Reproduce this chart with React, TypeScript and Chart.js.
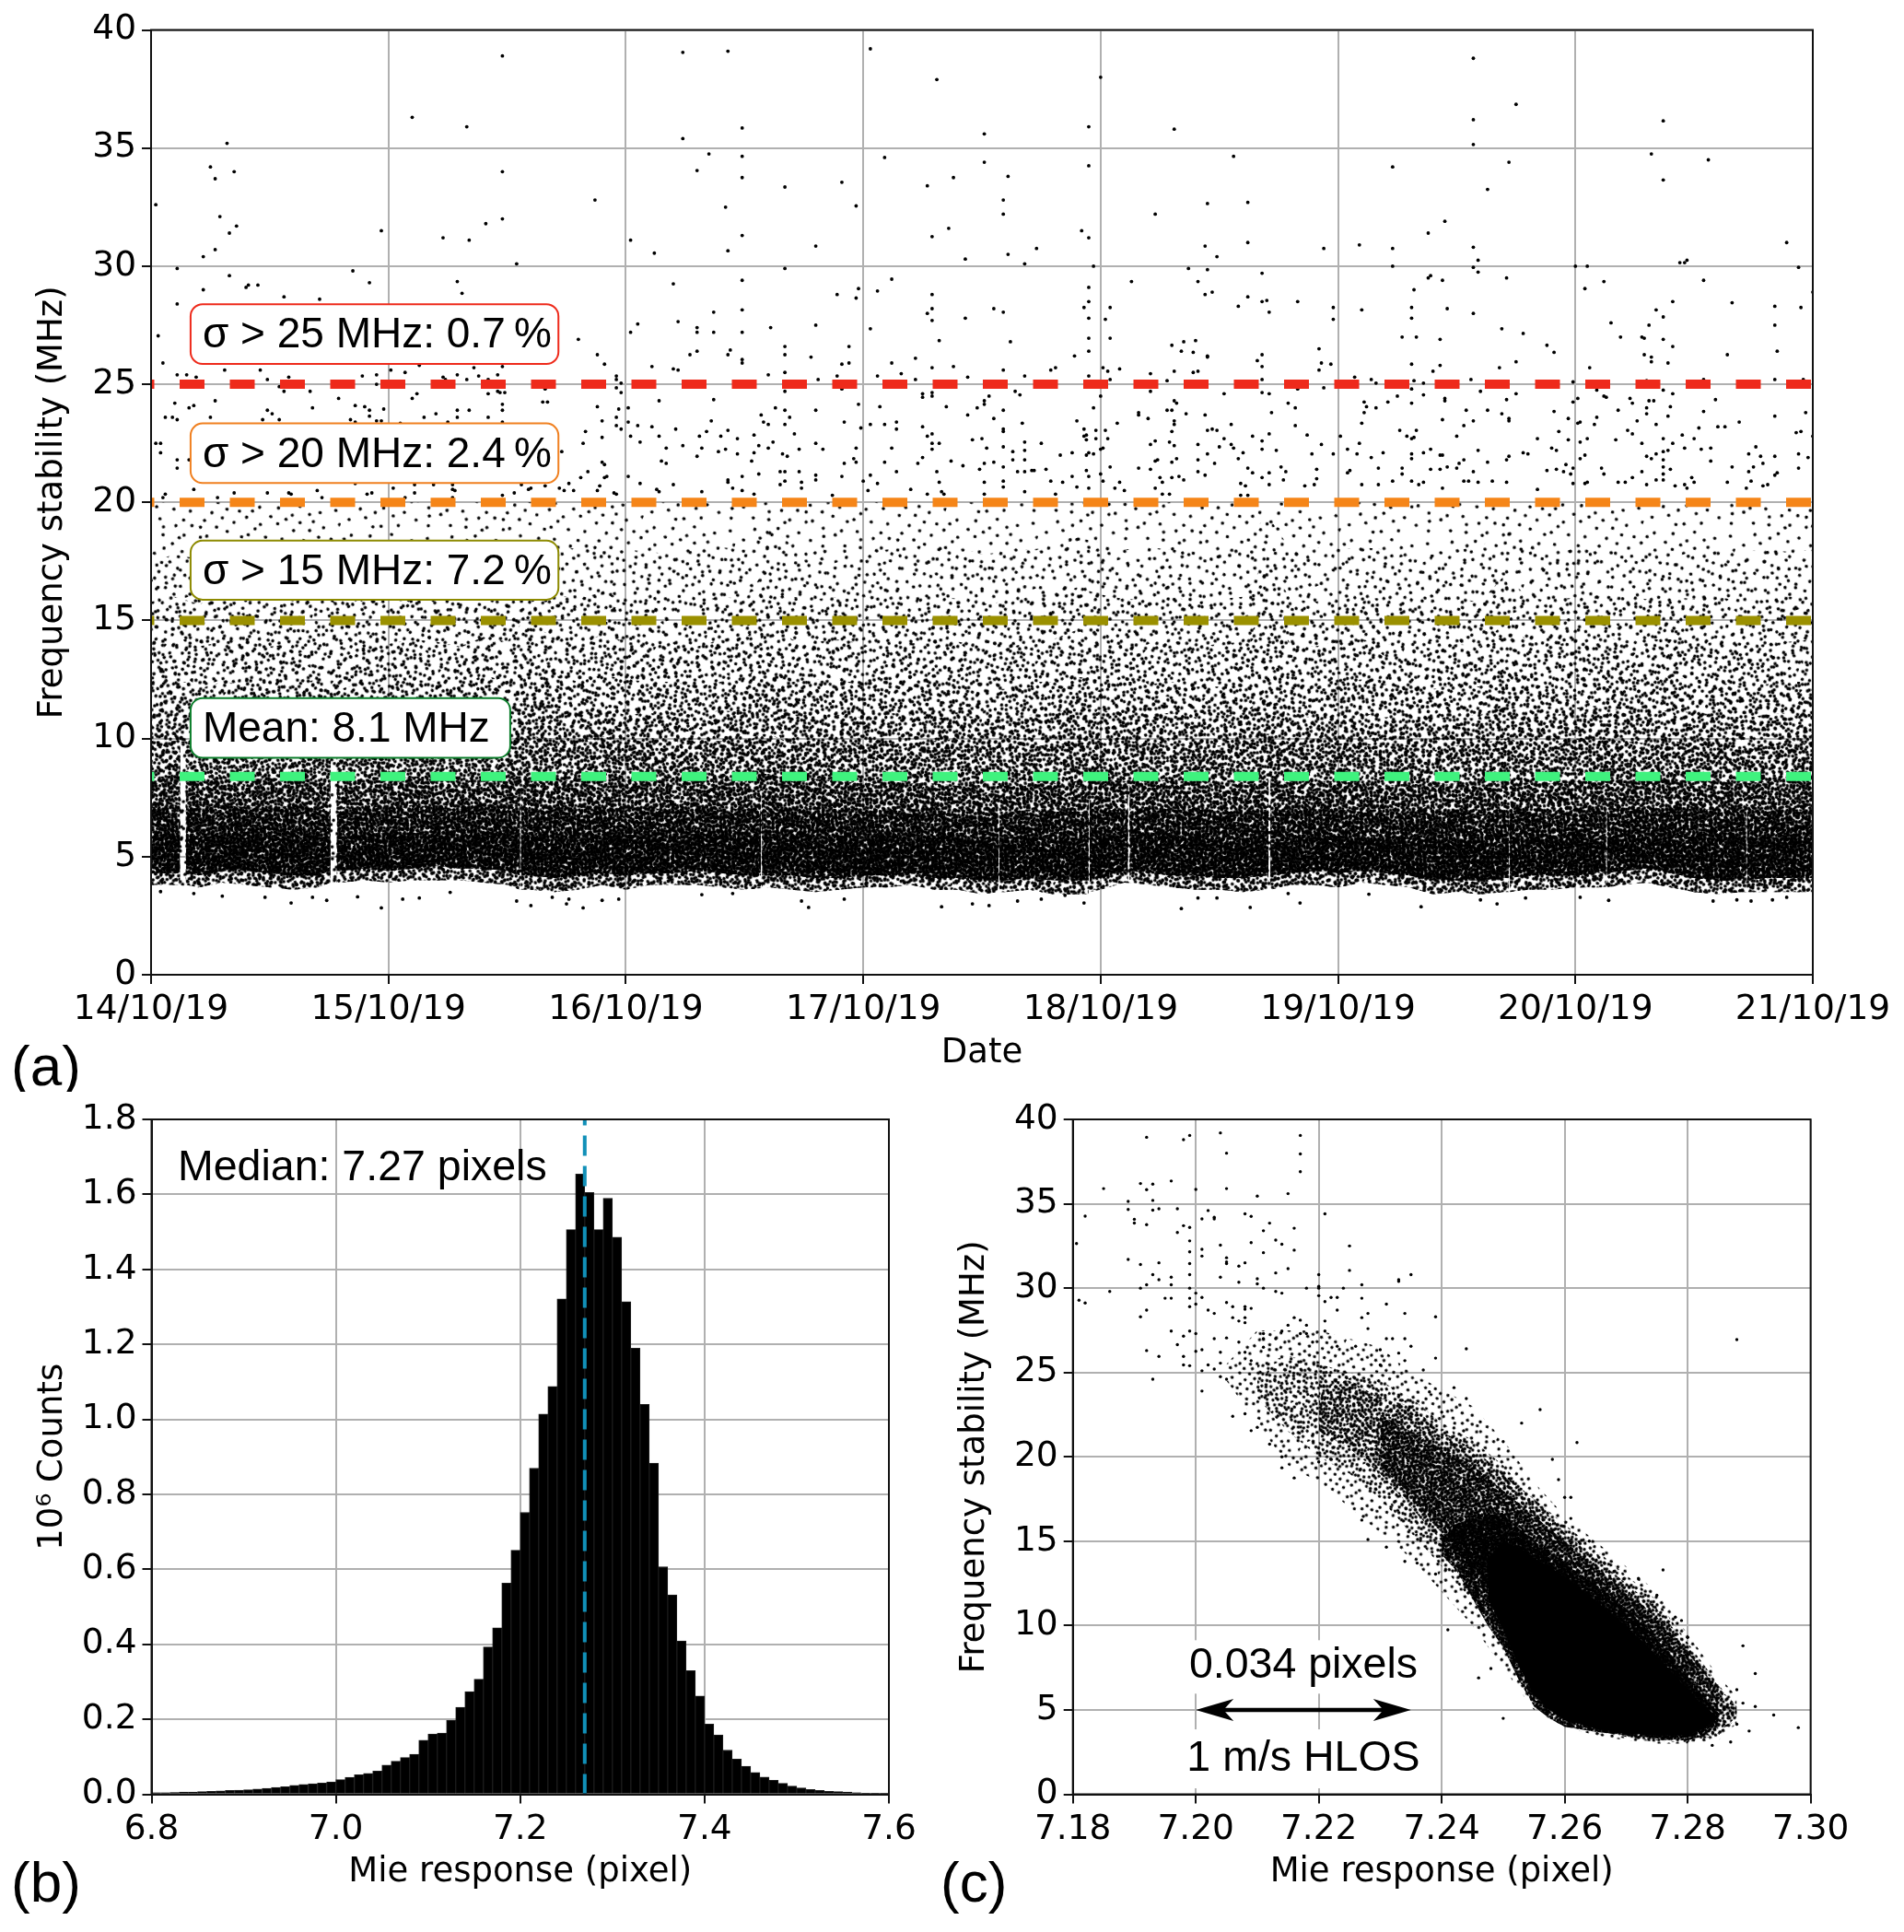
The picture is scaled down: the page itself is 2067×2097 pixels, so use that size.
import React, { useEffect, useRef } from "react";
import { Chart, registerables } from "chart.js";
Chart.register(...registerables);

// ---------- Panel (a): sparse points, flat [day, MHz, day, MHz, ...]
const day14Points = [14.02,32.6,14.32,35.2,14.25,34.2,14.35,34,14.27,33.7,14.29,32.1,14.36,31.7,14.33,31.4,14.27,30.7,14.22,30.4,14.11,29.9,14.33,29.6,14.41,29.2,14.4,29.1,14.45,29.2,14.22,29,14.11,28.4,14.56,28.7,14.71,28.6,14.03,27.05,14.05,25.9,14.11,25.4,14.15,25.4,14.19,25.3,14.31,25.6,14.46,25.6,14.49,25.2,14.58,25.3,14.54,24.9,14.56,24.7,14.67,24.7,14.79,24.4,14.27,24.3,14.1,24.2,14.18,24.1,14.16,24,14.06,23.6,14.09,23.6,14.11,23.5,14.25,23.6,14.49,23.9,14.51,23.75,14.47,23.5,14.54,23.5,14.68,24,14.86,24.1,14.9,24.05,14.92,23.9,14.92,23.65,14.84,23.5,14.86,23.4,14.95,23.45,14.97,23.45,14.98,23.95,14.89,25.35,14.95,25.4,14.95,25,14.97,31.5,14.85,29.8,14.92,29.3,14.02,22.5,14.04,22.5,14.04,22.1,14.11,21.8,14.11,21.45,14.16,21.8,14.86,20.8,14.93,20.4,14.91,20.35,14.7,20.5,14.72,20.2,14.58,20.4,14.59,20.35,14.49,20.4,14.35,20.4,14.18,20.55,14.06,20.35,14.05,20.2,14.28,20.2];
const day15Points = [15.1,36.3,15.33,35.9,15.48,38.9,15.48,34,15.48,32,15.41,31.8,15.23,31.2,15.34,31.1,15.54,30.1,15.29,29.35,15.31,28.85,15.87,32.8,15.8,26.9,15.88,26.25,15.91,25.85,15.96,25.35,15.96,25.2,15.96,24.85,15.98,25.05,15.98,24.65,15.66,24.8,15.65,24.25,15.67,24.25,15.88,24.05,15.9,23.45,15.97,23.95,15.96,23.6,15.96,23.25,15.98,23.1,15.83,23,15.82,22.5,15.9,22.75,15.73,22.15,15.84,21.3,15.81,21.05,15.92,21.1,15.91,21.05,15.9,21.7,15.91,21.6,15.76,20.8,15.72,20.6,15.74,20.5,15.78,20.5,15.56,20.75,15.59,20.55,15.6,20.6,15.66,20.7,15.53,20.4,15.89,20.7,15.88,20.5,15.95,20.4,15.96,20.35,15.27,20.55,15.28,20.5,15.27,20.75,15.19,20.75,15.11,20.75,15.02,20.6,15.11,20.4,15.07,20.2,15.27,20.2,15.48,20.3,15.1,24.4,15.12,24.6,15.01,25.6,15.07,25.5,15.13,25.8,15.23,25.3,15.24,25.2,15.29,25.4,15.33,25.2,15.36,25.7,15.38,25.35,15.42,25.2,15.46,25.4,15.48,25.75,15.42,24.6,15.46,24.7,15.47,24.65,15.49,24.65,15.48,24.15,15.48,23.9,15.42,23.6,15.29,23.9,15.29,23.6,15.34,23.9,15.2,23.75,15.15,23.6,15.25,23.4,15.05,23.35,15.48,23.4];
const day16Points = [16.02,31.1,16.02,27.2,16.05,27.55,16.01,24,16.01,23.4,16.02,22.8,16.05,23.25,16.06,22.55,16.01,21.1,16.06,20.8,16.24,39.05,16.43,39.1,16.24,35.4,16.49,35.85,16.35,34.75,16.49,34.65,16.3,34.05,16.49,33.75,16.67,33.35,16.91,33.55,16.42,32.5,16.97,32.55,16.49,31.3,16.43,30.65,16.8,30.85,16.12,30.55,16.67,29.9,16.49,29.4,16.2,29.25,16.89,28.8,16.98,29.05,16.97,28.65,16.49,28.15,16.37,28.05,16.22,27.65,16.3,27.4,16.3,27.2,16.37,27.2,16.49,27.2,16.61,27.4,16.8,27.5,16.94,26.6,16.67,26.6,16.67,26.25,16.44,26.45,16.43,26.25,16.3,26.4,16.27,26.25,16.78,26.15,16.49,26.05,16.49,25.9,16.91,25.85,16.94,25.9,16.11,25.75,16.2,25.65,16.22,25.6,16.6,25.4,16.67,25.5,16.89,25.35,16.81,25.2,16.67,24.7,16.91,24.8,16.14,24.3,16.37,24.35,16.98,24.15,16.8,23.9,16.67,23.9,16.69,23.6,16.63,24,16.57,23.7,16.58,23.4,16.6,23.3,16.67,23.3,16.36,23.45,16.92,23.4,16.99,23.15,16.11,23.2,16.21,23.1,16.43,23.05,16.34,23,16.71,22.9,16.14,22.8,16.31,22.8,16.4,22.8,16.47,22.7,16.54,22.85,16.62,22.55,16.56,22.4,16.6,22.3,16.8,22.5,16.83,22.25,16.97,22.3,16.17,22.3,16.24,22.4,16.32,22.3,16.42,22.25,16.39,22.15,16.3,21.95,16.47,22.05,16.54,22.1,16.73,22.25,16.66,22.05,16.68,21.95,16.15,21.75,16.17,21.65,16.53,21.75,16.96,21.85,16.97,21.7,16.92,21.65,16.56,21.2,16.49,21.1,16.43,20.95,16.43,20.85,16.65,21.3,16.67,21.3,16.73,21.3,16.8,21.15,16.8,20.95,16.91,21.1,16.67,20.9,16.65,20.75,16.74,20.85,16.74,20.6,16.45,20.6,16.49,20.5,16.13,20.55,16.14,20.45,16.2,20.75,16.32,20.45,16.54,20.35,16.87,20.3];
const day17Points = [17.03,39.2,17.31,37.9,17.51,35.6,17.95,35.9,17.12,29.45,17.06,28.95,17.29,28.8,17.29,28.2,17.27,28,17.29,27.7,17.03,27.35,17.32,26.85,17.22,26.1,17.43,30.3,17.29,31.25,17.36,31.6,17.09,34.6,17.27,33.4,17.38,33.75,17.51,34.4,17.61,33.8,17.59,32.8,17.59,32.2,17.61,30.5,17.73,30.75,17.68,30.1,17.95,34.25,17.92,31.5,17.95,31.2,17.97,30,17.95,29.1,17.95,28.5,17.93,28.25,17.95,27.8,17.95,26.95,17.95,26.4,17.89,26.2,17.43,27.8,17.55,28.2,17.59,28.05,17.62,26.8,17.12,25.9,17.38,25.75,17.29,25.7,17.59,25.6,17.06,25.35,17.16,25.45,17.22,25.2,17.44,25.3,17.68,25.35,17.79,25.6,17.81,25.7,17.95,25.35,17.25,24.6,17.25,24.45,17.29,24.65,17.29,24.5,17.35,24.05,17.07,24.05,17.64,24.7,17.66,24.55,17.53,24.5,17.51,24.3,17.51,24.15,17.48,24,17.44,23.7,17.59,23.9,17.55,23.55,17.67,23.35,17.97,24,17.9,23.45,17.03,23.3,17.09,23.3,17.14,23.4,17.14,23.1,17.25,23.2,17.29,22.9,17.27,22.8,17.59,23.1,17.59,23,17.93,23.1,17.98,23.05,17.94,22.85,17.93,22.8,17.98,22.7,17.94,22.65,17.46,22.65,17.5,22.7,17.68,22.55,17.75,22.5,17.29,22.5,17.32,22.5,17.12,22.3,17.29,22.25,17.52,22.3,17.59,22.35,17.63,22.15,17.68,22.2,17.95,22.1,17.97,22.05,17.94,22,17.88,22.1,17.83,22,17.25,21.9,17.23,21.65,17.09,21.7,17.37,21.75,17.51,21.65,17.55,21.7,17.63,21.8,17.68,21.8,17.42,21.55,17.49,21.4,17.59,21.5,17.65,21.3,17.68,21.3,17.71,21.35,17.72,21.35,17.77,21.4,17.14,21.3,17.31,21.3,17.94,21.35,17.95,21.1,17.03,21.15,17.06,20.8,17,20.9,17.59,20.9,17.59,20.65,17.51,20.85,17.79,20.9,17.84,20.85,17.88,21.1,17.9,20.65,17.32,20.85,17.2,20.55,17.02,20.5,17.27,20.35,17.33,20.45,17.34,20.35,17.68,20.45,17.51,20.35,17.81,20.35,17.95,20.6];
const day18Points = [18,38,18.31,35.8,18.02,27.75,18.04,28.25,18.04,26.95,18.13,29.35,18.37,29.9,18.41,29.35,18.45,29.85,18.44,28.8,18.47,28.9,18.58,28.3,18.62,28.7,18.23,32.2,18.45,32.65,18.62,32.7,18.44,30.85,18.62,31,18.49,30.4,18.56,34.65,18.3,26.65,18.35,26.8,18.4,26.85,18.34,26.4,18.39,26.35,18.45,26.2,18.45,26.15,18.66,26,18.21,25.45,18.31,25.55,18.39,25.5,18.41,25.55,18.28,25.15,18.01,25.7,18.03,25.55,18.08,25.65,18.04,25.2,18,24.5,18.02,23.05,18.03,22.7,18.01,22.3,18,22.25,18.04,21.5,18,21.2,18.01,20.9,18.08,20.85,18.06,20.6,18.1,20.5,18.21,24.7,18.52,24.6,18.31,24.3,18.32,24.2,18.28,23.9,18.3,23.9,18.36,23.75,18.44,23.7,18.16,23.8,18.16,23.7,18.2,23.55,18.07,23.35,18.31,23.45,18.31,23.3,18.3,23,18.55,23.3,18.45,23.05,18.47,23.1,18.49,23.05,18.52,22.7,18.64,22.8,18.23,22.6,18.21,22.45,18.29,22.55,18.31,22.4,18.41,22.45,18.5,22.35,18.55,22.45,18.56,22.3,18.6,22.1,18.45,22.05,18.58,21.85,18.48,21.65,18.41,21.8,18.24,21.8,18.23,21.75,18.32,21.85,18.3,21.7,18.16,21.45,18.21,21.4,18.41,21.3,18.44,21.15,18.62,21.45,18.64,21.25,18.25,21.05,18.26,20.85,18.3,21.05,18.33,21.1,18.35,20.95,18.23,20.6,18.26,20.35,18.29,20.35,18.59,20.8,18.61,20.7,18.59,20.3,18.62,20.3,18.94,30.75,18.68,29.7,18.68,28.5,18.7,28.55,18.83,28.5,18.71,28.05,18.98,28.25,18.98,27.75,18.92,26.5,18.68,26.25,18.68,25.75,18.93,25.9,18.97,25.85,18.92,25.6,18.68,25.2,18.68,24.65,18.71,24.6,18.83,24.8,18.94,24.85,18.79,24.2,18.82,24,18.72,23.8,18.82,23.25,18.71,22.9,18.87,22.85,18.68,22.6,18.93,22.45,18.68,22.25,18.74,22.2,18.89,22.05,18.98,22.05,18.76,21.5,18.78,21.3,18.91,21.4,18.68,21.05,18.71,21.25,18.71,20.75,18.77,20.95,18.86,20.7,18.9,20.75,18.91,21];
const day19Points = [19.57,38.8,19.75,36.85,19.57,36.2,19.57,35.15,19.72,34.4,19.23,34.2,19.63,33.25,19.45,31.9,19.38,31.4,19.09,30.9,19.23,30.75,19.57,30.8,19.59,30.25,19.57,29.95,19.23,30,19.59,29.75,19.39,29.6,19.38,29.5,19.44,29.4,19.71,29.5,19.32,29,19.1,28.15,19.31,28.25,19.46,28.2,19.57,28,19.31,27.8,19.69,27.35,19.78,27.15,19.27,27,19.33,27,19.43,26.9,19.88,26.65,19.91,26.35,19.75,25.95,19.31,25.85,19.43,25.8,19.68,25.7,19.4,25.55,19.07,25.3,19.14,25.2,19.16,25.05,19.32,25.15,19.36,25.05,19.56,25.2,19.99,25.1,19.31,24.8,19.25,24.5,19.36,24.55,19.6,24.7,19.75,24.6,19.71,24.35,19.45,24.4,19.45,24.3,19.11,24.25,19.12,24.05,19.21,24.25,19.16,24,19.31,24.2,19.99,24.25,19.11,23.8,19.54,23.9,19.63,23.9,19.69,23.75,19.91,23.85,19.72,23.55,19.72,23.45,19.44,23.5,19.57,23.45,19.97,23.55,19.1,23.35,19.53,23.25,19.26,23.05,19.33,23.05,19.93,23,19.01,22.8,19.29,22.8,19.31,22.7,19.32,22.75,19.5,22.8,19.84,22.7,19.97,22.65,19.09,22.5,19.04,22.25,19.39,22.25,19.9,22.3,19.92,22.2,19.59,22.2,19.19,22.1,19.08,22.05,19.14,21.9,19.31,22.05,19.31,21.85,19.36,22.1,19.43,22,19.44,22,19.53,21.8,19.51,21.65,19.63,21.7,19.72,21.95,19.71,21.8,19.78,22.1,19.8,22.05,19.04,21.25,19.05,21.35,19.17,21.45,19.27,21.45,19.27,21.2,19.39,21.4,19.43,21.4,19.46,21.5,19.5,21.45,19.57,21.3,19.88,21.35,19.92,21.4,19.96,21.6,19.95,21.3,19.98,21.2,19.99,21.45,19.1,20.75,19.17,20.75,19.23,20.9,19.31,20.9,19.34,20.75,19.36,20.85,19.44,20.6,19.53,20.9,19.55,20.9,19.59,20.85,19.65,20.9,19.71,20.85,19.84,20.55,19.99,20.8];
const day20Points = [20.37,36.15,20.32,34.75,20.56,34.5,20.37,33.65,20.89,31,20,30,20.05,30,20.44,30.15,20.46,30.15,20.47,30.25,20.94,29.95,20.12,29.35,20.54,29.4,20.04,29.05,21,28.9,20.34,28.15,20.41,28.5,20.66,28.45,20.84,28.3,20.95,28.25,20.37,27.85,20.31,27.5,20.15,27.6,20.84,27.5,20.19,27,20.28,27,20.29,26.95,20.37,26.9,20.41,26.6,20.85,26.4,20.29,26.25,20.32,26.15,20.32,25.95,20.39,25.9,20.64,26.25,20.06,25.7,20.3,25.15,20.54,25.2,20.84,25.2,20.96,25.2,20.09,24.75,20.37,24.75,20.41,24.6,20.12,24.5,20.13,24.45,20.01,24.4,20.23,24.4,20.24,24.2,20.31,24.3,20.33,24.3,20.4,24.05,20.59,24.35,20.18,23.9,20.3,24,20.3,23.75,20.54,23.85,20.97,23.8,20.84,23.65,20.39,23.65,20.09,23.6,20.26,23.45,20.69,23.4,20.01,23.35,20.02,23.4,20.08,23.3,20.34,23.3,20.6,23.2,20.63,23.2,20.22,23.05,20.52,23.15,20.93,22.95,20.95,23,20.24,22.9,20.45,22.85,21,22.8,20.05,22.7,20.17,22.65,20.37,22.7,20.02,22.55,20.28,22.5,20.41,22.5,20.5,22.7,20.46,22.3,20.53,22.25,20.57,22.3,20.37,22.15,20.39,22.2,20.76,22.35,20.04,22,20.02,21.85,20.3,21.95,20.32,21.85,20.34,22.05,20.37,21.8,20.73,22.05,20.78,21.95,20.79,21.65,20.94,22.05,20.98,21.9,20.84,21.95,20.57,21.75,20.11,21.45,20.12,21.2,20.28,21.3,20.37,21.5,20.37,21.2,20.4,21.4,20.66,21.5,20.73,21.3,20.75,21.5,20.85,21.25,20.84,21.15,20.94,21.45,20.04,20.8,20.05,20.85,20.18,20.85,20.21,20.85,20.24,21.05,20.34,20.95,20.37,20.95,20.3,20.75,20.42,20.7,20.46,20.75,20.47,20.6,20.49,21.05,20.5,20.85,20.64,20.85,20.72,20.6,20.74,20.9,20.79,20.7,20.81,20.75];
const lowOutliers = [14.59,3.04,14.97,2.83,14.48,3.28,14.74,3.15,14.3,3.33,15.06,3.2,15.13,3.25,15.26,3.49,15.54,3.12,15.6,2.93,15.69,3.28,15.75,3,15.82,2.83,15.76,3.2,15.9,3.15,15.97,3.2,14.87,3.3,14.68,3.28,14.18,3.44,14.04,3.52,16.77,2.85,17.33,2.88,17.46,3,17.53,2.93,17.65,3.12,17.93,3.04,18.34,2.8,18.63,2.85,16.32,3.39,16.45,3.44,16.74,3.12,16.92,3.2,18.41,3.25,18.49,3.25,17.85,3.36,17.75,3.2,18.84,3.04,19.35,2.88,19.6,3.17,19.67,3,20.14,3.15,20.58,3.12,20.68,3.17,20.74,3.12,20.83,3.17,20.89,3.28,19.79,3.25,20.02,3.28,18.79,3.44,19.13,3.41];

// Density envelopes of the part of panel (a) too dense to list point by point (every 0.1 day)
const edgeDays = [14,14.1,14.2,14.3,14.4,14.5,14.6,14.7,14.8,14.9,15,15.1,15.2,15.3,15.4,15.5,15.6,15.7,15.8,15.9,16,16.1,16.2,16.3,16.4,16.5,16.6,16.7,16.8,16.9,17,17.1,17.2,17.3,17.4,17.5,17.6,17.7,17.8,17.9,18,18.1,18.2,18.3,18.4,18.5,18.6,18.7,18.8,18.9,19,19.1,19.2,19.3,19.4,19.5,19.6,19.7,19.8,19.9,20,20.1,20.2,20.3,20.4,20.5,20.6,20.7,20.8,20.9,21];
const lowEdge = [3.8,3.8,3.7,3.9,3.8,3.7,3.6,3.7,3.9,4,3.9,4,4,4,3.9,3.8,3.6,3.5,3.6,3.8,3.6,3.8,3.8,3.8,3.7,3.6,3.7,3.6,3.5,3.6,3.7,3.7,3.8,3.6,3.6,3.4,3.5,3.6,3.4,3.4,3.6,3.9,3.8,3.7,3.6,3.6,3.5,3.6,3.8,3.8,3.7,3.9,3.8,3.7,3.4,3.5,3.4,3.5,3.6,3.6,3.7,3.7,3.8,3.9,3.7,3.5,3.4,3.5,3.5,3.5,3.5];
const coreLow = [4.3,4.3,4.2,4.4,4.4,4.3,4.2,4.2,4.4,4.5,4.4,4.5,4.6,4.5,4.5,4.4,4.2,4.1,4.2,4.3,4.2,4.3,4.3,4.4,4.3,4.2,4.2,4.2,4.1,4.1,4.2,4.2,4.3,4.1,4.1,4,4,4.1,4,4,4.1,4.4,4.3,4.2,4.2,4.1,4.1,4.2,4.3,4.4,4.3,4.4,4.3,4.2,4,4,4,4.1,4.2,4.2,4.2,4.3,4.4,4.5,4.3,4.1,4,4,4.1,4.1,4.1];
const deepTop = [5.9,6,5.8,6,6.1,5.9,6,5.8,5.8,6,6,6,6.1,5.9,6,6,5.9,6,5.8,5.9,5.9,6,5.8,5.9,6,5.9,6,5.9,5.9,5.8,5.8,5.9,5.7,5.9,5.8,5.7,5.8,5.9,5.8,5.8,5.9,5.9,6,5.9,5.9,5.8,5.8,5.9,5.8,5.9,5.9,5.8,5.7,5.8,5.7,5.8,5.7,5.8,5.8,5.7,5.9,5.8,5.9,5.9,6,5.9,5.9,5.8,5.8,5.9,5.9];
const coreTop = [7.1,7.2,7,7.2,7.1,7,7.2,7,6.9,7.1,7,7.2,7.1,7,7.2,7.2,7,7.1,7,7.1,7,7.1,6.9,7,7.1,7,7.2,7,7.1,7,6.9,7,6.9,7,6.8,6.7,6.8,7,6.9,6.9,7,7,7.1,7,7,6.9,6.9,7,6.9,7,7,6.9,6.8,6.9,6.8,6.9,6.8,6.9,6.9,6.8,7,6.9,7,7,7.1,7,7,6.9,6.9,7,7];
const top8 = [8.4,8.4,8.2,8.4,8.3,8.3,8.4,8.2,8.2,8.3,8.2,8.4,8.4,8.2,8.3,8.4,8.3,8.3,8.2,8.4,8.2,8.3,8.1,8.3,8.3,8.2,8.5,8.2,8.3,8.2,8.1,8.2,8.1,8.1,8,7.9,8,8.1,8.1,8.2,8.3,8.2,8.3,8.2,8.2,8.1,8.1,8.3,8.1,8.2,8.2,8.1,8,8.1,8,8.1,8,8.2,8.1,8.1,8.2,8.2,8.3,8.2,8.3,8.2,8.2,8.1,8.2,8.3,8.3];
const top10 = [9.9,9.9,9.6,9.8,9.7,9.7,9.8,9.6,9.7,9.8,9.6,9.8,9.8,9.7,9.8,9.9,10.1,10,9.9,10.1,9.9,9.9,9.7,9.9,9.9,9.8,10.2,9.8,9.9,9.7,9.7,9.8,9.8,9.9,10,9.6,9.7,9.7,9.7,9.9,10,9.9,9.8,9.8,9.7,9.7,9.8,10.2,9.7,9.7,9.8,9.8,9.7,9.7,9.5,9.7,9.8,10,9.7,9.7,10,10,9.9,9.8,9.9,9.8,9.8,9.7,9.8,9.8,9.8];
const top11 = [11,11.1,10.8,11,11.1,11,10.9,11.1,10.8,11,10.9,11.1,11.2,10.9,11.1,11.2,11.6,11.3,11,11.3,11,11.1,10.9,11,11.2,11.1,11.9,11,11.1,11,10.9,11.1,11,11.2,11.1,10.8,10.9,11,11.1,11.3,11.2,11,11,11.1,10.9,10.9,11.1,11.8,11,10.9,11.1,11.1,10.9,11,10.8,11,11,11.5,11,10.9,11.3,11.4,11.1,11.1,11.2,11.1,11,10.9,11,11.1,11.1];
const top13 = [12.6,12.4,12.1,12.4,12.3,12.4,12.3,12.5,12.1,12.4,12.2,12.5,12.4,12.2,12.7,12.4,13,12.7,12.4,12.7,12.5,12.4,12.4,12.2,12.4,12.5,13.2,12.4,12.5,12.4,12.4,12.6,12.4,12.5,12.4,12.2,12.1,12.4,12.4,12.6,12.5,12.4,12.3,12.4,12.2,12.2,12.4,13.1,12.3,12.2,12.4,12.5,12.3,12.3,12.1,12.3,12.2,13,12.3,12.2,12.7,12.8,12.5,12.5,12.6,12.5,12.4,12.2,12.3,12.4,12.4];
const top14 = [14,14.2,13.9,14.1,14.2,13.9,14,14.2,13.8,14.1,14,14.2,14.1,13.9,14.3,14.1,14.8,14.3,14,14.4,14.1,14,14.1,13.9,14.2,14.1,15.3,14.2,14.1,14.2,14,14.2,14,14.3,14.1,13.9,13.8,14.1,14.2,14.6,14.3,14,14,14.2,13.9,14,14.1,15.4,14,13.9,14.1,14.2,14,14,13.8,14,13.9,14.9,14.1,13.9,14.2,14.3,14.1,14.2,14.2,14,14.1,13.9,14,14.1,14.2];
const top16 = [15.8,16,15.7,15.9,16.1,15.8,15.9,16,15.7,15.9,15.8,16,15.9,15.8,16.1,16.2,16.6,16.1,15.9,16.2,15.9,15.8,15.9,15.8,16,15.9,17.3,16,15.9,16,15.8,16,15.9,16.1,15.9,15.7,15.8,16,16,16.4,16.1,15.9,15.9,16,15.8,15.9,16,17.6,15.9,15.8,15.9,16,15.9,15.8,15.7,15.9,15.8,16.9,16,15.8,16,16.1,16,15.9,16,15.9,16,15.8,15.9,16,16];
const top18 = [17.5,17.8,17.6,17.9,18,17.7,18,17.8,17.6,17.9,17.8,18,18.1,17.9,18.2,18.3,18.6,18.2,18,18.2,18,17.9,17.8,18,18.1,18,19,18.2,18,18.1,17.9,18,18.1,18.3,18.1,17.8,17.9,18,18.1,18.5,18.3,18,18.1,18,17.9,18,18.1,19.5,18,18.1,18,18.1,18,17.9,17.8,18,18.1,18.9,18.1,17.9,18,18.2,18.1,18,18,18.1,18,17.9,18,17.9,18];
const top20 = [20,20,20,20,20,20,20,20,20,20,20,20,20,20,20,20,20,20,20,20,20,20,20,20,20,20,20,20,20,20,20,20,20,20,20,20,20,20,20,20,20,20,20,20,20,20,20,20,20,20,20,20,20,20,20,20,20,20,20,20,20,20,20,20,20,20,20,20,20,20,20];
// White data gaps: first day, last day, height up to which they stay empty
const gapStarts = [14.123,14.757,15.555,16.57,17.57,17.95,18.116,18.708,19.72,20.13,20.72];
const gapEnds = [14.146,14.782,15.558,16.573,17.573,17.953,18.122,18.714,19.723,20.133,20.723];
const gapTops = [9.8,9.2,7.6,7.8,7.6,7.4,8,8.4,7,7,7];

const thresholds = [25, 20, 15, 8.4];
const thresholdColors = ["#ee2a1b", "#f58518", "#9a9000", "#3ff27e"];
const boxLabels = ["σ > 25 MHz: 0.7\u2009%", "σ > 20 MHz: 2.4\u2009%", "σ > 15 MHz: 7.2\u2009%", "Mean: 8.1 MHz"];
const boxBorders = ["#ee2a1b", "#f08020", "#8d8a00", "#0a7d2a"];
const boxLeft = [14.1665, 14.1665, 14.1665, 14.1665];
const boxRight = [15.716, 15.716, 15.716, 15.513];
const boxTop = [28.39, 23.34, 18.38, 11.71];
const boxBottom = [25.86, 20.82, 15.88, 9.19];

// ---------- Panel (b)
const histLeftEdges = [6.8,6.81,6.82,6.83,6.84,6.85,6.86,6.87,6.88,6.89,6.9,6.91,6.92,6.93,6.94,6.95,6.96,6.97,6.98,6.99,7,7.01,7.02,7.03,7.04,7.05,7.06,7.07,7.08,7.09,7.1,7.11,7.12,7.13,7.14,7.15,7.16,7.17,7.18,7.19,7.2,7.21,7.22,7.23,7.24,7.25,7.26,7.27,7.28,7.29,7.3,7.31,7.32,7.33,7.34,7.35,7.36,7.37,7.38,7.39,7.4,7.41,7.42,7.43,7.44,7.45,7.46,7.47,7.48,7.49,7.5,7.51,7.52,7.53,7.54,7.55,7.56,7.57,7.58,7.59];
const histCounts = [0.004,0.004,0.005,0.006,0.006,0.007,0.008,0.009,0.01,0.011,0.012,0.014,0.016,0.018,0.02,0.024,0.026,0.028,0.03,0.033,0.039,0.045,0.052,0.056,0.062,0.078,0.088,0.098,0.107,0.144,0.161,0.163,0.197,0.232,0.274,0.307,0.393,0.444,0.563,0.651,0.752,0.87,1.014,1.088,1.321,1.506,1.654,1.605,1.506,1.59,1.486,1.314,1.19,1.04,0.883,0.607,0.532,0.409,0.33,0.262,0.187,0.158,0.118,0.094,0.075,0.058,0.046,0.037,0.029,0.022,0.017,0.013,0.01,0.008,0.007,0.006,0.004,0.003,0.002,0.001];
const medianValue = 7.27;

// ---------- Panel (c): sparse points, flat [pixel, MHz, ...]
const mieUpperLeft = [7.1806,32.64,7.182,34.27,7.181,29.28,7.182,29.12,7.185,35.9,7.186,29.8,7.189,35.14,7.189,34.66,7.19,33.86,7.19,34.08,7.192,33.76,7.189,31.7,7.191,36.2,7.192,35.84,7.193,36.16,7.192,38.94,7.193,35.2,7.193,34.62,7.194,34.7,7.191,31.4,7.194,31.5,7.193,30.8,7.191,30,7.192,30.2,7.191,28.3,7.192,28.7,7.192,26.3,7.193,24.6,7.194,25.95,7.196,36.35,7.197,34.7,7.197,33.3,7.198,33.7,7.199,33.6,7.199,32.8,7.198,38.8,7.199,39.05,7.2,35.85,7.204,39.2,7.205,38,7.205,35.9,7.21,35.45,7.217,39.05,7.217,37.95,7.217,36.9,7.215,35.6,7.202,34.6,7.201,34.1,7.203,34.1,7.203,34.2,7.199,32.15,7.201,32.3,7.201,31.9,7.199,31.45,7.199,30.8,7.204,32.55,7.208,34.4,7.209,34.25,7.211,33.4,7.212,33.85,7.216,33.55,7.213,32.85,7.214,32.6,7.216,32.25,7.209,32.7,7.211,32.1,7.221,34.4,7.225,32.5,7.225,31.05,7.205,31.8,7.205,31.55,7.205,31.45,7.208,31.5,7.207,31.3,7.204,30.65,7.207,30.35];
const mieMiddle = [7.213,30.9,7.215,31.15,7.22,30.8,7.21,30.55,7.21,30.25,7.211,30,7.213,29.8,7.214,29.7,7.218,30,7.22,30.1,7.22,30,7.224,30,7.227,30.2,7.233,30.4,7.233,30.5,7.235,30.8,7.231,29.05,7.227,29.4,7.222,29.45,7.223,29.45,7.22,29.55,7.221,29.2,7.223,28.7,7.228,28.5,7.234,28.5,7.239,28.3,7.244,26.4,7.239,25.85,7.288,26.95,7.194,30.5,7.196,30.65,7.196,30.2,7.195,29.4,7.196,29.4,7.199,30,7.2,29.7,7.201,29.45,7.199,29.4,7.199,28.9,7.2,29.05,7.202,28.7,7.203,28.5,7.196,27.45,7.197,26.65,7.198,25.95,7.198,25.45,7.199,25.4,7.198,27.15,7.199,27.45,7.2,27.3,7.2,26.25,7.201,26.35,7.201,25.1,7.201,23.9,7.202,25.45,7.203,25.2,7.203,27,7.204,26.2,7.204,25.55,7.204,24.75,7.205,24.6,7.206,22.4,7.208,22.55,7.205,27.05,7.206,28.25,7.207,28.05,7.205,29.15,7.206,28.9,7.208,28.9,7.208,28.75,7.208,28.25,7.208,27.95,7.209,28.8,7.207,26.8,7.208,26.2,7.209,25.7,7.211,27.3,7.211,27,7.211,26.5,7.213,27,7.214,27.45,7.215,27.8,7.216,28.25,7.217,28.1,7.218,27.8,7.217,27.3,7.218,27.3,7.219,26.8,7.221,28.05,7.221,27.45,7.223,26.55,7.226,26.55,7.227,28.25,7.228,27.6,7.231,27,7.232,27,7.234,27,7.235,26.55,7.23,26.35,7.23,25.45,7.233,26.15,7.234,25.7,7.237,25.15];
const mieEdgePoints = [7.262,20.85,7.253,22,7.256,22.8,7.242,24.1,7.244,23.45,7.238,23.85,7.24,22.65,7.258,19.85,7.25,20.9,7.259,18.65,7.26,17.6,7.261,17.6,7.261,16.35,7.264,15,7.276,13.3,7.268,13.2,7.272,12.8,7.275,11.8,7.278,10.5,7.279,10.3,7.28,9.3,7.289,8.8,7.291,7.15,7.291,5.2,7.289,5.4,7.288,6.2,7.294,4.7,7.298,3.95,7.29,3.75,7.287,3.1,7.284,2.9,7.288,4.15,7.286,5.05,7.285,5.7,7.284,6.65,7.25,4.5,7.246,6.9,7.248,7.45,7.241,9.75,7.246,11.8,7.244,12.9,7.239,13.05,7.236,13.7,7.234,13.8,7.231,14.65,7.228,15.1,7.227,16.25,7.22,19.7,7.216,18.75,7.214,19.35,7.214,20,7.212,20.75,7.209,21.55,7.21,21.75];
const cDays = [7.205,7.21,7.215,7.22,7.225,7.23,7.235,7.24,7.245,7.25,7.255,7.26,7.265,7.27,7.275,7.28,7.285,7.288];
const cOuterLow = [24.5,22,19.5,18.5,17,15.5,14,12,10,7.5,5,4,3.5,3.2,3,3,3.2,4.2];
const cOuterHigh = [25.5,27.5,27.5,27.5,27,26.5,25,24,23,21,18.5,16.5,15,13.5,12,9.5,7,5.8];
const cMidLow = [23.5,21.5,20,19,17.5,15.5,13.5,11.5,9,5.5,4.3,3.6,3.3,3.1,3.1,3.5,4.5];
const cMidHigh = [25.5,26,25.5,25,24.5,23.5,22,21,19.5,17.5,16,14.5,13,11.5,9,6.5,5.2];
const cInnerLow = [21.5,20.5,19,17,15,13,10.5,7,4.6,3.8,3.4,3.2,3.2,3.6,4.6];
const cInnerHigh = [24.5,24.5,23.5,23,21.5,20.5,19,17.5,15.5,14,12.5,11,8.8,6.4,5.1];
const cDenseLow = [19.5,17.5,15.5,13.5,11,7.5,5,4,3.5,3.3,3.2,3.7];
const cDenseHigh = [22.5,21.5,20.5,19.5,18,16.5,15,13.5,12,10.5,8.5,6.2];
const cFringeDays = [7.24,7.2425,7.245,7.2475,7.25,7.2525,7.255,7.2575,7.26,7.265,7.27,7.275,7.28,7.283,7.285];
const cFringeLow = [14.2,13.2,11.6,10,8.7,6.8,5.2,4.5,4,3.7,3.5,3.35,3.35,3.8,4.3];
const cFringeHigh = [15.2,16,16.4,16.6,16.6,15.8,15,14.4,13.7,12.4,11,9.2,7,5.6,4.8];
const cSolidDays = [7.2475,7.25,7.2525,7.255,7.2575,7.26,7.265,7.27,7.275,7.28,7.283,7.285];
const cSolidLow = [11.6,9.8,7.6,5.9,5,4.4,3.9,3.6,3.5,3.5,4,4.5];
const cSolidHigh = [14,15,14.6,14,13.5,12.9,11.5,10,8.2,6.2,5.1,4.6];
const arrowFrom = 7.2;
const arrowTo = 7.235;
const arrowLevel = 5;

// Hand-placed texture of one stipple tile (percent of tile side); a fill style only.
const stippleDots = [[7,12],[23,5],[41,9],[58,3],[76,14],[91,7],[14,27],[33,22],[49,25],[66,19],[84,28],[4,41],[20,44],[37,38],[55,40],[71,35],[95,37],[11,58],[29,55],[46,52],[63,57],[80,49],[89,61],[2,73],[18,69],[36,71],[52,66],[70,72],[83,76],[97,79],[10,87],[26,84],[43,82],[60,88],[74,92],[88,94],[31,97],[50,95],[15,98],[64,75],[28,33],[42,63],[77,60],[93,50],[8,33],[59,30],[68,47],[24,76],[38,90],[82,39],[54,14],[16,50],[47,78],[72,25],[99,20],[33,12],[86,84],[5,62],[61,65],[44,31]];

const LABEL = "'Liberation Sans'";
const pairs = (flat: number[]) => {
  const out: { x: number; y: number }[] = [];
  for (let i = 0; i < flat.length; i += 2) out.push({ x: flat[i], y: flat[i + 1] });
  return out;
};

function stipple(size: number, angle: number, radius = 1.8) {
  const tile = document.createElement("canvas");
  tile.width = size;
  tile.height = size;
  const c = tile.getContext("2d")!;
  c.fillStyle = "#000";
  for (const [u, v] of stippleDots) {
    c.beginPath();
    c.arc((u / 100) * size, (v / 100) * size, radius, 0, Math.PI * 2);
    c.fill();
  }
  const p = c.createPattern(tile, "repeat")!;
  p.setTransform(new DOMMatrix().rotate(angle));
  return p;
}

function band(days: number[], low: number[], high: number[], fill: any, useGaps = true) {
  const xs = [...days];
  if (useGaps) gapStarts.forEach((s, i) => xs.push(s - 0.001, s, gapEnds[i], gapEnds[i] + 0.001));
  xs.sort((a, b) => a - b);
  const near = (x: number) => {
    let best = 0;
    days.forEach((d, i) => {
      if (Math.abs(d - x) < Math.abs(days[best] - x)) best = i;
    });
    return best;
  };
  const upper: any[] = [];
  const lower: any[] = [];
  xs.forEach((x) => {
    const i = near(x);
    const g = useGaps ? gapStarts.findIndex((s, k) => x >= s && x <= gapEnds[k]) : -1;
    let lo: number | null = low[i];
    let hi: number | null = high[i];
    if (g >= 0) {
      if (hi <= gapTops[g]) {
        lo = null;
        hi = null;
      } else {
        lo = Math.max(lo, gapTops[g]);
      }
    }
    upper.push({ x, y: hi });
    lower.push({ x, y: lo });
  });
  const common = { type: "line", pointRadius: 0, borderWidth: 0, tension: 0, order: 5, spanGaps: false };
  return [
    { ...common, data: upper, fill: "+1", backgroundColor: fill },
    { ...common, data: lower, fill: false },
  ];
}

function frame(chart: any) {
  const { ctx, chartArea: a } = chart;
  ctx.save();
  ctx.strokeStyle = "#111";
  ctx.lineWidth = 2;
  ctx.strokeRect(a.left, a.top, a.right - a.left, a.bottom - a.top);
  ctx.restore();
}

function axis(title: string, extra: any, size: number, horizontal: boolean) {
  return {
    type: "linear",
    ...extra,
    title: {
      display: true,
      text: title,
      color: "#000",
      font: { family: "'DejaVu Sans'", size: 37 },
      padding: horizontal ? { top: 0, bottom: 0 } : { top: 11, bottom: 0 },
    },
    grid: { color: "#b0b0b0", lineWidth: 2, tickColor: "#111", tickLength: 10, tickWidth: 2, drawOnChartArea: true, offset: false },
    border: { color: "#111", width: 2 },
    afterFit: (s: any) => {
      if (horizontal) s.height = size;
      else s.width = size;
    },
  };
}
const tickStyle = (cb: (v: number) => string, step: number) => ({
  stepSize: step,
  autoSkip: false,
  maxRotation: 0,
  color: "#000",
  padding: 6,
  font: { family: "'DejaVu Sans'", size: 37.5 },
  callback: cb,
});

const baseOptions = {
  responsive: false,
  animation: false,
  devicePixelRatio: 1,
  plugins: { legend: { display: false }, tooltip: { enabled: false } },
};

const letter = (chart: any, text: string, x: number, y: number) => {
  const c = chart.ctx;
  c.save();
  c.font = `62px ${LABEL}`;
  c.fillStyle = "#000";
  c.textBaseline = "middle";
  c.fillText(text, x, y);
  c.restore();
};

export default function App() {
  const aRef = useRef<HTMLCanvasElement>(null);
  const bRef = useRef<HTMLCanvasElement>(null);
  const cRef = useRef<HTMLCanvasElement>(null);

  useEffect(() => {
    const sparse = [...day14Points, ...day15Points, ...day16Points, ...day17Points, ...day18Points, ...day19Points, ...day20Points, ...lowOutliers];
    const chartA = new Chart(aRef.current!, {
      type: "scatter",
      data: {
        datasets: [
          ...thresholds.map((v, i) => ({
            type: "line",
            data: [{ x: 14, y: v }, { x: 21, y: v }],
            borderColor: thresholdColors[i],
            borderWidth: 10,
            borderDash: [27, 27.5],
            borderDashOffset: 23.5,
            pointRadius: 0,
            order: 0,
            fill: false,
          })),
          { data: pairs(sparse), pointRadius: 1.9, pointBorderWidth: 0, pointBackgroundColor: "#000", order: 1 },
          ...band(edgeDays, lowEdge, top20, stipple(104, 17), false),
          ...band(edgeDays, lowEdge, top18, stipple(97, 71), false),
          ...band(edgeDays, lowEdge, top16, stipple(91, 128), false),
          ...band(edgeDays, lowEdge, top14, stipple(83, 39)),
          ...band(edgeDays, lowEdge, top13, stipple(74, 94)),
          ...band(edgeDays, lowEdge, top11, stipple(62, 152)),
          ...band(edgeDays, lowEdge, top10, stipple(50, 26)),
          ...band(edgeDays, coreLow, top8, stipple(38, 63)),
          ...band(edgeDays, coreLow, coreTop, stipple(31, 141)),
          ...band(edgeDays, coreLow, deepTop, stipple(34, 8)),
        ] as any,
      },
      options: {
        ...baseOptions,
        layout: { padding: { left: 24, right: 99, top: 32.5, bottom: 19 } },
        scales: {
          x: axis("Date", { min: 14, max: 21, ticks: tickStyle((v) => `${v}/10/19`, 1) }, 108, true),
          y: axis("Frequency stability (MHz)", { min: 0, max: 40, ticks: tickStyle((v) => `${v}`, 5) }, 140, false),
        },
      } as any,
      plugins: [
        {
          id: "boxesA",
          afterDraw(chart: any) {
            frame(chart);
            const { ctx, scales } = chart;
            boxLabels.forEach((t, i) => {
              const l = scales.x.getPixelForValue(boxLeft[i]);
              const r = scales.x.getPixelForValue(boxRight[i]);
              const top = scales.y.getPixelForValue(boxTop[i]);
              const bot = scales.y.getPixelForValue(boxBottom[i]);
              ctx.save();
              ctx.beginPath();
              ctx.roundRect(l, top, r - l, bot - top, 13);
              ctx.fillStyle = "#fff";
              ctx.fill();
              ctx.strokeStyle = boxBorders[i];
              ctx.lineWidth = 2;
              ctx.stroke();
              ctx.fillStyle = "#000";
              ctx.font = `46px ${LABEL}`;
              ctx.textBaseline = "middle";
              ctx.textAlign = "left";
              ctx.fillText(t, l + 13, (top + bot) / 2 + 2);
              ctx.restore();
            });
            letter(chart, "(a)", 12, 1161);
          },
        },
      ],
    });

    const chartB = new Chart(bRef.current!, {
      type: "bar",
      data: {
        datasets: [
          {
            type: "line",
            data: [{ x: medianValue, y: 0 }, { x: medianValue, y: 1.8 }],
            borderColor: "#1190b8",
            borderWidth: 4,
            borderDash: [22, 11],
            pointRadius: 0,
            order: 0,
          },
          {
            data: histLeftEdges.map((e, i) => ({ x: e + 0.005, y: histCounts[i] })),
            backgroundColor: "#000",
            borderColor: "#1c1c1c",
            borderWidth: 1,
            barPercentage: 1,
            categoryPercentage: 1,
            order: 1,
          },
        ] as any,
      },
      options: {
        ...baseOptions,
        layout: { padding: { left: 24.5, right: 55, top: 30, bottom: 42.5 } },
        scales: {
          x: axis("Mie response (pixel)", { min: 6.8, max: 7.6, offset: false, ticks: tickStyle((v) => v.toFixed(1), 0.2) }, 107, true),
          y: axis("10⁶ Counts", { min: 0, max: 1.8, ticks: tickStyle((v) => v.toFixed(1), 0.2) }, 140, false),
        },
      } as any,
      plugins: [
        {
          id: "labelsB",
          afterDraw(chart: any) {
            frame(chart);
            const { ctx, scales } = chart;
            ctx.save();
            ctx.font = `46.5px ${LABEL}`;
            ctx.fillStyle = "#000";
            ctx.textBaseline = "middle";
            ctx.fillText("Median: 7.27 pixels", scales.x.getPixelForValue(6.8285), scales.y.getPixelForValue(1.67));
            ctx.restore();
            letter(chart, "(b)", 12, 862);
          },
        },
      ],
    });

    const chartC = new Chart(cRef.current!, {
      type: "scatter",
      data: {
        datasets: [
          {
            data: pairs([...mieUpperLeft, ...mieMiddle, ...mieEdgePoints]),
            pointRadius: 1.7,
            pointBorderWidth: 0,
            pointBackgroundColor: "#000",
            order: 1,
          },
          ...band(cDays, cOuterLow, cOuterHigh, stipple(64, 23, 1.7), false),
          ...band(cDays.slice(1), cMidLow, cMidHigh, stipple(46, 67, 1.7), false),
          ...band(cDays.slice(3), cInnerLow, cInnerHigh, stipple(36, 112, 1.7), false),
          ...band(cDays.slice(5, 17), cDenseLow, cDenseHigh, stipple(28, 41, 1.7), false),
          ...band(cFringeDays, cFringeLow, cFringeHigh, stipple(21, 76, 1.7), false),
          ...band(cSolidDays, cSolidLow, cSolidHigh, "#000", false),
        ] as any,
      },
      options: {
        ...baseOptions,
        layout: { padding: { left: 4.7, right: 101.4, top: 30, bottom: 42.5 } },
        scales: {
          x: axis("Mie response (pixel)", { min: 7.18, max: 7.3, ticks: tickStyle((v) => v.toFixed(2), 0.02) }, 107, true),
          y: axis("Frequency stability (MHz)", { min: 0, max: 40, ticks: tickStyle((v) => `${v}`, 5) }, 140, false),
        },
      } as any,
      plugins: [
        {
          id: "arrowC",
          afterDraw(chart: any) {
            frame(chart);
            const { ctx, scales } = chart;
            const x1 = scales.x.getPixelForValue(arrowFrom);
            const x2 = scales.x.getPixelForValue(arrowTo);
            const y = scales.y.getPixelForValue(arrowLevel);
            ctx.save();
            ctx.fillStyle = "#fff";
            ctx.font = `46.5px ${LABEL}`;
            ctx.textAlign = "center";
            ctx.textBaseline = "middle";
            const cx = scales.x.getPixelForValue(7.2175);
            const t1 = scales.y.getPixelForValue(7.6);
            const t2 = scales.y.getPixelForValue(2.1);
            ctx.fillRect(cx - 130, t1 - 28, 260, 58);
            ctx.fillRect(cx - 130, t2 - 32, 260, 64);
            ctx.fillStyle = "#000";
            ctx.fillText("0.034 pixels", cx, t1);
            ctx.fillText("1 m/s HLOS", cx, t2);
            ctx.strokeStyle = "#000";
            ctx.lineWidth = 4.5;
            ctx.beginPath();
            ctx.moveTo(x1 + 10, y);
            ctx.lineTo(x2 - 10, y);
            ctx.stroke();
            const head = (tip: number, dir: number) => {
              ctx.beginPath();
              ctx.moveTo(tip, y);
              ctx.lineTo(tip + dir * 41, y - 12);
              ctx.lineTo(tip + dir * 30, y);
              ctx.lineTo(tip + dir * 41, y + 12);
              ctx.closePath();
              ctx.fill();
            };
            head(x1, 1);
            head(x2, -1);
            ctx.restore();
            letter(chart, "(c)", 1, 862);
          },
        },
      ],
    });
    return () => {
      chartA.destroy();
      chartB.destroy();
      chartC.destroy();
    };
  }, []);

  const abs = (left: number, top: number): React.CSSProperties => ({ position: "absolute", left, top, display: "block" });
  return (
    <div style={{ position: "absolute", left: 0, top: 0, width: 2067, height: 2097, background: "#fff", overflow: "hidden" }}>
      <canvas ref={aRef} width={2067} height={1185} style={abs(0, 0)} />
      <canvas ref={bRef} width={1020} height={912} style={abs(0, 1185)} />
      <canvas ref={cRef} width={1047} height={912} style={abs(1020, 1185)} />
    </div>
  );
}
